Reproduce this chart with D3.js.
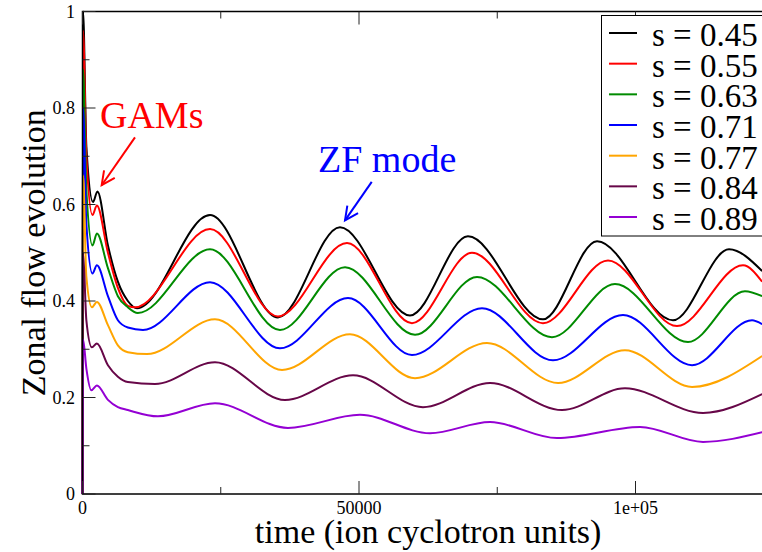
<!DOCTYPE html>
<html lang="en">
<head>
<meta charset="utf-8">
<title>Zonal flow evolution</title>
<style>
  body { margin: 0; padding: 0; background: #fff; }
  svg { display: block; }
  text { font-family: "Liberation Serif", "Times New Roman", Times, "DejaVu Serif", serif; }
</style>
<script src="https://d3js.org/d3.v7.min.js"></script>
</head>
<body>
<div id="root"></div>
<script>
// [time, zonal flow], one array per radial position s
var s045 = [[0,0],[100,1.0],[700,0.72],[1900,0.605],[2700,0.627],[4600,0.515],[6400,0.44],[8200,0.40],
  [9860,0.385],[23060,0.578],[35350,0.366],[46560,0.553],[59220,0.37],[69710,0.534],
  [83270,0.362],[93040,0.524],[106780,0.36],[116910,0.507],[122900,0.462]];
var s055 = [[0,0],[100,0.96],[700,0.70],[1800,0.578],[2600,0.598],[4600,0.50],[6400,0.427],[8200,0.39],
  [9490,0.387],[23060,0.549],[35350,0.368],[47830,0.52],[59580,0.354],[70430,0.50],
  [83270,0.354],[95030,0.484],[107500,0.348],[119440,0.474],[122900,0.44]];
var s063 = [[0,0],[100,0.88],[700,0.63],[1800,0.515],[2600,0.54],[4600,0.468],[6400,0.41],[8200,0.387],
  [10000,0.375],[23060,0.507],[35710,0.34],[47470,0.47],[60130,0.33],[71340,0.45],
  [84900,0.325],[96290,0.435],[109490,0.315],[119800,0.42],[122900,0.41]];
var s071 = [[0,0],[100,0.80],[700,0.56],[1800,0.457],[2600,0.474],[4600,0.41],[6400,0.36],[8200,0.345],
  [10940,0.34],[23060,0.439],[35710,0.302],[48010,0.406],[59580,0.288],[72240,0.385],
  [85080,0.277],[97740,0.371],[110220,0.267],[121070,0.36],[122900,0.352]];
var s077 = [[0,0],[100,0.66],[700,0.45],[1700,0.387],[2600,0.398],[4600,0.35],[6400,0.308],[8200,0.294],
  [11660,0.29],[23960,0.362],[36080,0.257],[48370,0.331],[60130,0.24],[73150,0.313],
  [85990,0.23],[98100,0.298],[110220,0.222],[122900,0.286]];
var s084 = [[0,0],[100,0.50],[700,0.36],[1700,0.304],[2600,0.312],[4600,0.267],[6400,0.243],[8200,0.232],
  [13110,0.228],[23960,0.273],[36620,0.195],[48920,0.246],[61570,0.18],[73690,0.23],
  [86710,0.174],[98100,0.219],[112210,0.168],[122900,0.207]];
var s089 = [[0,0],[100,0.32],[700,0.26],[1600,0.215],[2600,0.225],[4600,0.195],[6400,0.18],[8200,0.174],
  [13650,0.161],[23960,0.188],[37160,0.137],[50180,0.164],[62840,0.126],[73690,0.149],
  [85810,0.116],[100820,0.139],[112210,0.108],[122900,0.128]];

var seriesNames = ["s = 0.45", "s = 0.55", "s = 0.63", "s = 0.71", "s = 0.77", "s = 0.84", "s = 0.89"];
var seriesData = [s045, s055, s063, s071, s077, s084, s089];
var seriesColors = ["#000000", "#ff0000", "#008b00", "#0000ff", "#ffa500", "#670748", "#9400d3"];

var xMajor = [0, 50000, 100000];
var xMajorLabels = ["0", "50000", "1e+05"];
var xMinor = [25000, 75000, 125000];
var yMajor = [0, 0.2, 0.4, 0.6, 0.8, 1];
var yMajorLabels = ["0", "0.2", "0.4", "0.6", "0.8", "1"];
var yMinor = [0.1, 0.3, 0.5, 0.7, 0.9];

var width = 762, height = 552;
var serif = '"Liberation Serif", "Times New Roman", Times, "DejaVu Serif", serif';
var svg = d3.select("#root").append("svg")
    .attr("width", width)
    .attr("height", height)
    .attr("font-family", serif);

var x = d3.scaleLinear().domain([0, 125000]).range([82.5, 773.75]);
var y = d3.scaleLinear().domain([0, 1]).range([494, 11.5]);

// curves
var line = d3.line()
    .curve(d3.curveMonotoneX)
    .x(function(d) { return x(d[0]); })
    .y(function(d) { return y(d[1]); });

svg.append("g")
    .attr("fill", "none")
    .attr("stroke-width", 2)
    .attr("stroke-linejoin", "round")
  .selectAll("path")
  .data(seriesData)
  .enter().append("path")
    .attr("stroke", function(d, i) { return seriesColors[i]; })
    .attr("d", line);

// frame
svg.append("rect")
    .attr("x", x(0)).attr("y", y(1))
    .attr("width", x.range()[1] - x(0)).attr("height", y(0) - y(1))
    .attr("fill", "none").attr("stroke", "#000").attr("stroke-width", 1.5);

// ticks pointing inward
var ticks = svg.append("g").attr("stroke", "#222").attr("stroke-width", 1);
function xTicks(vals, len) {
  vals.forEach(function(v) {
    ticks.append("line").attr("x1", x(v)).attr("x2", x(v)).attr("y1", y(0)).attr("y2", y(0) - len);
    ticks.append("line").attr("x1", x(v)).attr("x2", x(v)).attr("y1", y(1)).attr("y2", y(1) + len);
  });
}
function yTicks(vals, len) {
  vals.forEach(function(v) {
    ticks.append("line").attr("x1", x(0)).attr("x2", x(0) + len).attr("y1", y(v)).attr("y2", y(v));
  });
}
xTicks(xMajor, 13); xTicks(xMinor, 7);
yTicks(yMajor, 13); yTicks(yMinor, 7);

svg.append("g").selectAll("text")
  .data(xMajor).enter().append("text")
    .attr("x", function(d) { return x(d); })
    .attr("y", 514)
    .attr("text-anchor", "middle")
    .style("font-size", "18px")
    .text(function(d, i) { return xMajorLabels[i]; });

svg.append("g").selectAll("text")
  .data(yMajor).enter().append("text")
    .attr("x", 75)
    .attr("y", function(d) { return y(d); })
    .attr("dy", "0.35em")
    .attr("text-anchor", "end")
    .style("font-size", "18px")
    .text(function(d, i) { return yMajorLabels[i]; });

svg.append("text")
    .attr("x", (x.range()[0] + x.range()[1]) / 2)
    .attr("y", 543)
    .attr("text-anchor", "middle")
    .style("font-size", "34px")
    .text("time (ion cyclotron units)");

svg.append("text")
    .attr("transform", "translate(45," + (y(0) + y(1)) / 2 + ") rotate(-90)")
    .attr("text-anchor", "middle")
    .style("font-size", "34px")
    .text("Zonal flow evolution");

// legend
var legend = svg.append("g");
legend.append("rect")
    .attr("x", 601.5).attr("y", 15.5)
    .attr("width", 200).attr("height", 220.5)
    .attr("fill", "#fff").attr("stroke", "#000").attr("stroke-width", 1);
var entry = legend.selectAll("g")
  .data(seriesNames).enter().append("g")
    .attr("transform", function(d, i) { return "translate(0," + (33 + i * 30.67) + ")"; });
entry.append("line")
    .attr("x1", 609).attr("x2", 637)
    .attr("stroke", function(d, i) { return seriesColors[i]; })
    .attr("stroke-width", 2);
entry.append("text")
    .attr("x", 652).attr("y", 13)
    .style("font-size", "33px")
    .text(function(d) { return d; });

// annotations, anchored in data units
function arrow(color, t0, v0, t1, v1) {
  var x0 = x(t0), y0 = y(v0), x1 = x(t1), y1 = y(v1);
  var a = Math.atan2(y1 - y0, x1 - x0), h = 15, w = 0.45;
  var g = svg.append("g").attr("stroke", color).attr("stroke-width", 2).attr("fill", "none");
  g.append("line").attr("x1", x0).attr("y1", y0).attr("x2", x1).attr("y2", y1);
  g.append("polyline").attr("points", [
    [x1 - h * Math.cos(a - w), y1 - h * Math.sin(a - w)],
    [x1, y1],
    [x1 - h * Math.cos(a + w), y1 - h * Math.sin(a + w)]
  ].map(function(p) { return p.join(","); }).join(" "));
}

svg.append("text")
    .attr("x", x(3160)).attr("y", y(0.758))
    .attr("fill", "#ff0000")
    .style("font-size", "38px")
    .text("GAMs");
arrow("#ff0000", 9490, 0.739, 3470, 0.64);

svg.append("text")
    .attr("x", x(42590)).attr("y", y(0.667))
    .attr("fill", "#0000ff")
    .style("font-size", "38px")
    .text("ZF mode");
arrow("#0000ff", 52300, 0.647, 47470, 0.567);
</script>
</body>
</html>
